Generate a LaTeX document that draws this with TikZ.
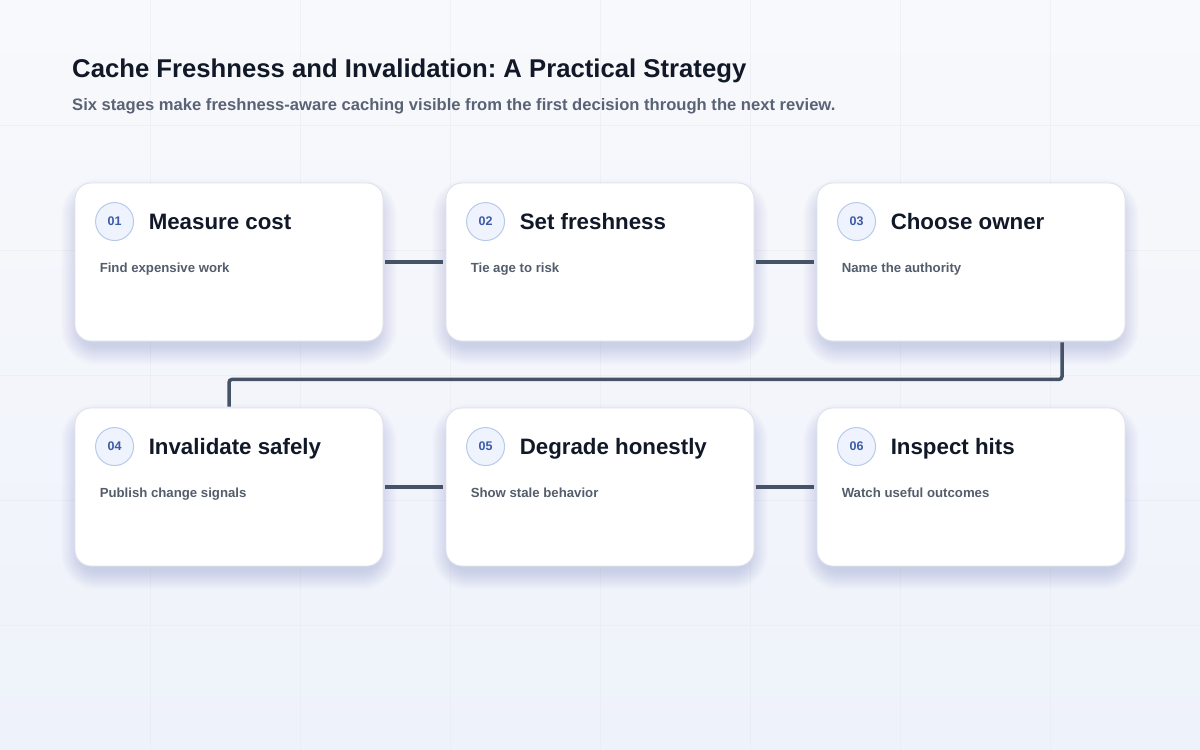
\documentclass[tikz,border=0pt]{standalone}
\usepackage{fontspec}
\setmainfont{Liberation Sans}
\frenchspacing
\usetikzlibrary{calc}
\definecolor{bgtop}{HTML}{F8F9FC}
\definecolor{bgbot}{HTML}{EEF2FA}
\definecolor{gridc}{HTML}{E6EAF1}
\definecolor{titlec}{HTML}{111827}
\definecolor{subc}{HTML}{5A6375}
\definecolor{cardsub}{HTML}{545D6C}
\definecolor{cardedge}{HTML}{DDE2EA}
\definecolor{numfill}{HTML}{EEF3FD}
\definecolor{numedge}{HTML}{B8CAEA}
\definecolor{numtext}{HTML}{3B5BA8}
\definecolor{linkc}{HTML}{465266}
\definecolor{shadowc}{HTML}{7080A8}
\tikzset{
  cardbox/.style={draw=cardedge, line width=0.9pt, fill=white, rounded corners=16pt,
    minimum width=308pt, minimum height=158pt, inner sep=0pt},
  numdot/.style={circle, draw=numedge, line width=1pt, fill=numfill, minimum size=38pt,
    inner sep=0pt, text=numtext, font=\fontsize{12.5}{14}\selectfont\bfseries},
  cardtitle/.style={anchor=base west, inner sep=0pt, text=titlec,
    font=\fontsize{22.3}{26}\selectfont\bfseries},
  cardsubt/.style={anchor=base west, inner sep=0pt, text=cardsub,
    font=\fontsize{13.2}{16}\selectfont\bfseries},
  link/.style={draw=linkc, line width=3.5pt},
  shadowlayer/.style={fill=shadowc, fill opacity=0.012, draw=none},
}
\newcommand{\mycard}[6]{%
  \foreach \k in {1,...,20} {
    \fill[shadowlayer, rounded corners={16pt+\k pt}]
      (#2-154-\k+6,#3-79-\k+16) rectangle (#2+154+\k-6,#3+79+\k+4);
  }
  \node[cardbox] (c#1) at (#2,#3) {};
  \node[numdot] (n#1) at ($(c#1.north west)+(40,39)$) {#4};
  \node[cardtitle] (t#1) at ($(c#1.north west)+(74,47)$) {#5};
  \node[cardsubt] (s#1) at ($(c#1.north west)+(25,90)$) {#6};
}
\begin{document}
\begin{tikzpicture}[x=1pt,y=-1pt]
\useasboundingbox (0,0) rectangle (1200,750);
\shade[top color=bgtop, bottom color=bgbot] (0,0) rectangle (1200,750);
\foreach \gx in {150,300,...,1050} \draw[gridc, line width=0.8pt, opacity=0.5] (\gx,0) -- (\gx,750);
\foreach \gy in {125,250,...,625} \draw[gridc, line width=0.8pt, opacity=0.5] (0,\gy) -- (1200,\gy);

\node[anchor=base west, inner sep=0pt, text=titlec, font=\fontsize{25.7}{30}\selectfont\bfseries] (title) at (72,77) {Cache Freshness and Invalidation: A Practical Strategy};
\node[anchor=base west, inner sep=0pt, text=subc, font=\fontsize{16.6}{19}\selectfont\bfseries] (subtitle) at (72,110) {Six stages make freshness-aware caching visible from the first decision through the next review.};

\mycard{1}{229}{262}{01}{Measure cost}{Find expensive work}
\mycard{2}{600}{262}{02}{Set freshness}{Tie age to risk}
\mycard{3}{971}{262}{03}{Choose owner}{Name the authority}
\mycard{4}{229}{487}{04}{Invalidate safely}{Publish change signals}
\mycard{5}{600}{487}{05}{Degrade honestly}{Show stale behavior}
\mycard{6}{971}{487}{06}{Inspect hits}{Watch useful outcomes}

\draw[link, shorten <=2pt, shorten >=3pt] (c1.east) -- (c2.west);
\draw[link, shorten <=2pt, shorten >=3pt] (c2.east) -- (c3.west);
\draw[link, shorten <=2pt, shorten >=3pt] (c4.east) -- (c5.west);
\draw[link, shorten <=2pt, shorten >=3pt] (c5.east) -- (c6.west);
\draw[link, rounded corners=3pt] ([xshift=91pt,yshift=-1pt]c3.south) -- ++(0,37) -| ([yshift=1pt]c4.north);
\end{tikzpicture}
\end{document}
